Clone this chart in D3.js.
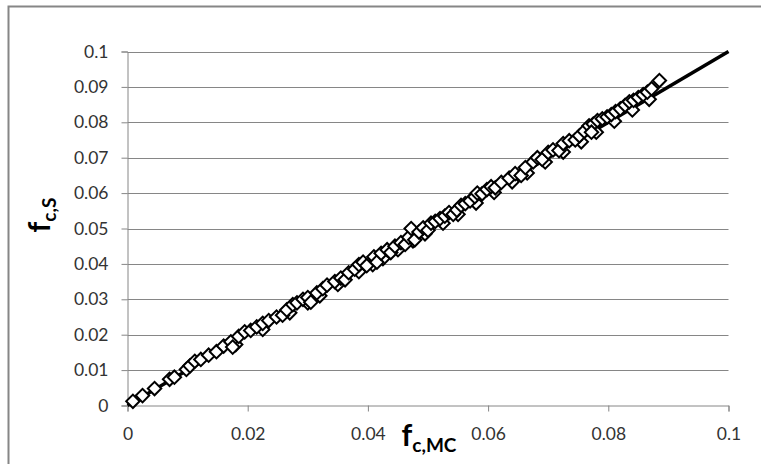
<!DOCTYPE html>
<html>
<head>
<meta charset="utf-8">
<script src="https://cdn.jsdelivr.net/npm/d3@7"></script>
<style>
  html, body { margin: 0; padding: 0; background: #fff; }
  svg { display: block; font-family: Lato, "Open Sans", sans-serif; }
</style>
</head>
<body>
<div id="chart"></div>
<script>
// f_c,MC vs f_c,S — scatter of open diamonds plus the y = x reference line

const fcMC = [
  0.0009, 0.0025, 0.0045, 0.0070, 0.0078, 0.0098, 0.0104, 0.0112, 0.0122, 0.0135,
  0.0148, 0.0160, 0.0172, 0.0175, 0.0185, 0.0195, 0.0205, 0.0215, 0.0225, 0.0235,
  0.0248, 0.0258, 0.0265, 0.0275, 0.0282, 0.0292, 0.0300, 0.0305, 0.0315, 0.0325,
  0.0332, 0.0345, 0.0355, 0.0362, 0.0368, 0.0378, 0.0385, 0.0392, 0.0398, 0.0410,
  0.0415, 0.0422, 0.0432, 0.0438, 0.0445, 0.0455, 0.0462, 0.0468, 0.0472, 0.0478,
  0.0485, 0.0492, 0.0500, 0.0505, 0.0512, 0.0520, 0.0528, 0.0535, 0.0542, 0.0548,
  0.0555, 0.0562, 0.0570, 0.0578, 0.0582, 0.0590, 0.0598, 0.0605, 0.0612, 0.0622,
  0.0635, 0.0645, 0.0655, 0.0662, 0.0675, 0.0682, 0.0690, 0.0700, 0.0708, 0.0718,
  0.0725, 0.0735, 0.0745, 0.0752, 0.0760, 0.0768, 0.0775, 0.0772, 0.0782, 0.0790,
  0.0798, 0.0805, 0.0812, 0.0820, 0.0828, 0.0835, 0.0842, 0.0850, 0.0858, 0.0865,
  0.0872, 0.0885
];
const fcS = [
  0.0012, 0.0028, 0.0048, 0.0074, 0.0080, 0.0102, 0.0112, 0.0125, 0.0130, 0.0142,
  0.0152, 0.0168, 0.0180, 0.0165, 0.0195, 0.0208, 0.0212, 0.0222, 0.0232, 0.0240,
  0.0250, 0.0255, 0.0270, 0.0285, 0.0290, 0.0300, 0.0305, 0.0292, 0.0318, 0.0330,
  0.0340, 0.0350, 0.0360, 0.0355, 0.0375, 0.0385, 0.0398, 0.0405, 0.0395, 0.0420,
  0.0405, 0.0430, 0.0440, 0.0432, 0.0450, 0.0460, 0.0455, 0.0475, 0.0500, 0.0468,
  0.0490, 0.0502, 0.0495, 0.0515, 0.0520, 0.0528, 0.0535, 0.0545, 0.0540, 0.0552,
  0.0565, 0.0570, 0.0578, 0.0590, 0.0600, 0.0598, 0.0610, 0.0618, 0.0615, 0.0630,
  0.0642, 0.0655, 0.0650, 0.0672, 0.0688, 0.0700, 0.0695, 0.0715, 0.0722, 0.0720,
  0.0740, 0.0748, 0.0750, 0.0762, 0.0775, 0.0790, 0.0795, 0.0772, 0.0805, 0.0810,
  0.0815, 0.0822, 0.0830, 0.0838, 0.0848, 0.0858, 0.0862, 0.0870, 0.0878, 0.0885,
  0.0895, 0.0918
];

// points sitting just under the main band (drawn first, mostly hidden)
const fcMCLow = [
  0.0180, 0.0225, 0.0270, 0.0300, 0.0320, 0.0350, 0.0385, 0.0408, 0.0425, 0.0450,
  0.0475, 0.0495, 0.0525, 0.0550, 0.0580, 0.0610, 0.0640, 0.0665, 0.0695, 0.0725,
  0.0755, 0.0780, 0.0810, 0.0840, 0.0868
];
const fcSLow = [
  0.0172, 0.0215, 0.0262, 0.0290, 0.0310, 0.0342, 0.0378, 0.0398, 0.0415, 0.0440,
  0.0465, 0.0485, 0.0515, 0.0540, 0.0572, 0.0602, 0.0632, 0.0657, 0.0688, 0.0716,
  0.0745, 0.0772, 0.0803, 0.0835, 0.0865
];

// y = x reference line
const lineX = [0, 0.1];
const lineY = [0, 0.1];

const xTicks = [0, 0.02, 0.04, 0.06, 0.08, 0.1];
const yTicks = [0, 0.01, 0.02, 0.03, 0.04, 0.05, 0.06, 0.07, 0.08, 0.09, 0.1];

const width = 761, height = 464;
const plot = { left: 127.5, right: 728.5, top: 51.5, bottom: 405.5 };
const gridColor = "#868686";
const labelColor = "#333";

const svg = d3.select("#chart").append("svg")
  .attr("width", width)
  .attr("height", height);

// chart area frame (right/bottom edges fall outside the picture)
svg.append("rect")
  .attr("x", 8.5).attr("y", 6.5)
  .attr("width", 770).attr("height", 480)
  .attr("fill", "#fff")
  .attr("stroke", gridColor)
  .attr("stroke-width", 2);

const x = d3.scaleLinear().domain([0, 0.1]).range([plot.left, plot.right]);
const y = d3.scaleLinear().domain([0, 0.1]).range([plot.bottom, plot.top]);

// horizontal gridlines
svg.append("g")
  .selectAll("line")
  .data(yTicks.filter(d => d > 0))
  .join("line")
  .attr("x1", plot.left).attr("x2", plot.right)
  .attr("y1", d => Math.round(y(d)) + 0.5).attr("y2", d => Math.round(y(d)) + 0.5)
  .attr("stroke", gridColor)
  .attr("stroke-width", 1);

// y axis
const yAxis = svg.append("g")
  .attr("transform", `translate(${plot.left},0)`)
  .call(d3.axisLeft(y).tickValues(yTicks).tickFormat(d3.format("")).tickSize(6).tickPadding(13));
// x axis
const xAxis = svg.append("g")
  .attr("transform", `translate(0,${plot.bottom})`)
  .call(d3.axisBottom(x).tickValues(xTicks).tickFormat(d3.format("")).tickSize(6).tickPadding(16));

[yAxis, xAxis].forEach(g => {
  g.select(".domain").attr("stroke", gridColor).attr("stroke-width", 1);
  g.selectAll(".tick line").attr("stroke", gridColor);
  g.selectAll(".tick text")
    .attr("fill", labelColor)
    .attr("font-size", 17.5)
    .attr("font-family", "Lato, sans-serif");
});

// y = x line
svg.append("path")
  .datum(lineX.map((v, i) => [v, lineY[i]]))
  .attr("d", d3.line().x(d => x(d[0])).y(d => y(d[1])))
  .attr("fill", "none")
  .attr("stroke", "#000")
  .attr("stroke-width", 3.5);

// open diamonds
const diamond = d3.symbol().type(d3.symbolSquare).size(90);
function drawDiamonds(xs, ys) {
  svg.append("g")
    .selectAll("path")
    .data(xs.map((v, i) => [v, ys[i]]))
    .join("path")
    .attr("d", diamond)
    .attr("transform", d => `translate(${x(d[0])},${y(d[1])}) rotate(45)`)
    .attr("fill", "#fff")
    .attr("stroke", "#000")
    .attr("stroke-width", 2);
}
drawDiamonds(fcMCLow, fcSLow);
drawDiamonds(fcMC, fcS);

// axis titles
const xTitle = svg.append("text")
  .attr("x", 429).attr("y", 446)
  .attr("text-anchor", "middle")
  .attr("font-weight", "bold")
  .attr("fill", "#000");
xTitle.append("tspan").attr("font-size", 30).text("f");
xTitle.append("tspan").attr("font-size", 19).attr("dy", 6).text("c,MC");

const yTitle = svg.append("text")
  .attr("transform", "translate(50,215) rotate(-90)")
  .attr("text-anchor", "middle")
  .attr("font-weight", "bold")
  .attr("fill", "#000");
yTitle.append("tspan").attr("font-size", 30).text("f");
yTitle.append("tspan").attr("font-size", 19).attr("dy", 6).text("c,S");
</script>
</body>
</html>
